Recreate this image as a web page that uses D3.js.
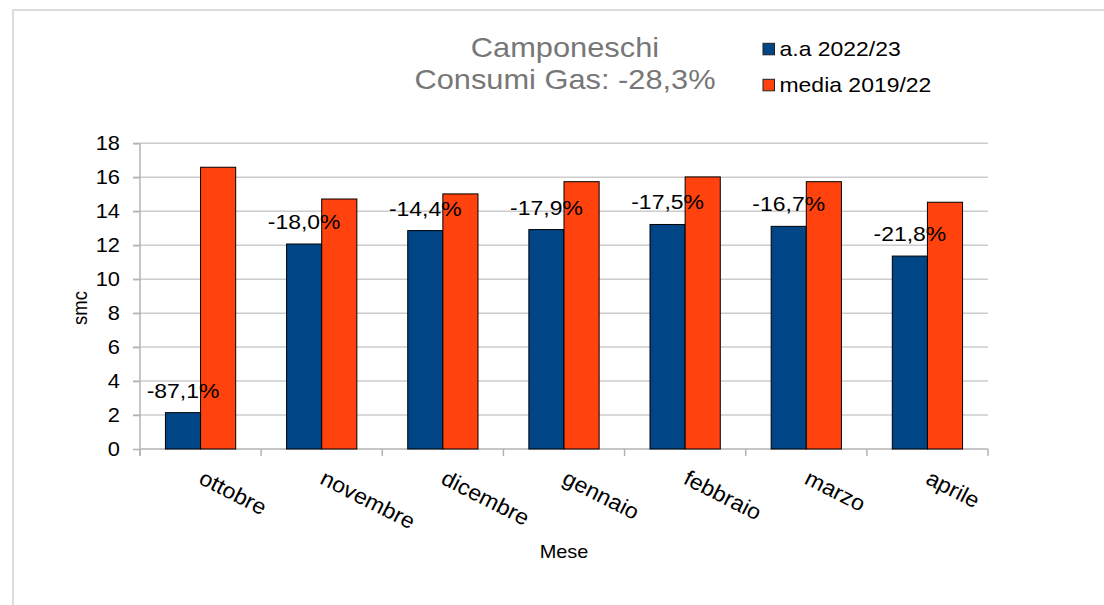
<!DOCTYPE html>
<html>
<head>
<meta charset="utf-8">
<script src="https://cdnjs.cloudflare.com/ajax/libs/d3/7.8.5/d3.min.js"></script>
<style>
  body { margin: 0; background: #fff; }
  svg { display: block; font-family: "Liberation Sans", Arial, sans-serif; }
</style>
</head>
<body>
<div id="chart"></div>
<script>
// data
var categories = ['ottobre', 'novembre', 'dicembre', 'gennaio', 'febbraio', 'marzo', 'aprile'];
var aa2223 = [2.14, 12.07, 12.86, 12.92, 13.22, 13.11, 11.36];
var media1922 = [16.59, 14.72, 15.02, 15.74, 16.02, 15.74, 14.53];
var pctLabels = ['-87,1%', '-18,0%', '-14,4%', '-17,9%', '-17,5%', '-16,7%', '-21,8%'];
var yTicks = [0, 2, 4, 6, 8, 10, 12, 14, 16, 18];
var seriesNames = ['a.a 2022/23', 'media 2019/22'];
var titleLines = ['Camponeschi', 'Consumi Gas: -28,3%'];

var colors = ['#004586', '#ff420e'];
var SX = 1.12; // text in the reference is a bit wide

var W = 1104, H = 605;
var plotL = 140, plotR = 988, plotT = 143.3, plotB = 449;

var svg = d3.select('#chart').append('svg')
  .attr('width', W).attr('height', H);

// frame
svg.append('rect')
  .attr('x', 13).attr('y', 10)
  .attr('width', W + 20).attr('height', H + 20)
  .attr('fill', 'none').attr('stroke', '#dcdcdc').attr('stroke-width', 2);

function place(sel, x, y) {
  return sel.attr('transform', 'translate(' + x + ',' + y + ') scale(' + SX + ',1)');
}

var y = d3.scaleLinear().domain([0, 18]).range([plotB, plotT]);
var x0 = d3.scaleBand().domain(categories).range([plotL, plotR])
  .paddingInner(0.42).paddingOuter(0.21);
var x1 = d3.scaleBand().domain([0, 1]).range([0, x0.bandwidth()]);

// grid
svg.append('g').selectAll('line')
  .data(yTicks.filter(function(d) { return d > 0; }))
  .enter().append('line')
  .attr('x1', plotL - 7).attr('x2', plotR)
  .attr('y1', function(d) { return y(d); })
  .attr('y2', function(d) { return y(d); })
  .attr('stroke', '#cccccc').attr('stroke-width', 1.5);

// y axis
var yAxis = svg.append('g').attr('transform', 'translate(' + plotL + ',0)')
  .call(d3.axisLeft(y).tickValues(yTicks).tickSize(7).tickPadding(0).tickFormat(''));
yAxis.select('.domain').remove();
yAxis.selectAll('line').attr('stroke', '#b3b3b3').attr('stroke-width', 1.5);
svg.append('line')
  .attr('x1', plotL).attr('x2', plotL).attr('y1', plotT).attr('y2', plotB + 7)
  .attr('stroke', '#b3b3b3').attr('stroke-width', 1.5);

svg.append('g').selectAll('text')
  .data(yTicks).enter().append('text')
  .each(function(d) { place(d3.select(this), 120, y(d)); })
  .attr('text-anchor', 'end').attr('dy', '0.36em')
  .attr('font-size', 19.5).attr('fill', '#000')
  .text(function(d) { return d; });

// x axis
svg.append('line')
  .attr('x1', plotL).attr('x2', plotR).attr('y1', plotB).attr('y2', plotB)
  .attr('stroke', '#b3b3b3').attr('stroke-width', 1.5);
var bounds = d3.range(categories.length + 1).map(function(i) { return plotL + i * x0.step(); });
svg.append('g').selectAll('line')
  .data(bounds).enter().append('line')
  .attr('x1', function(d) { return d; }).attr('x2', function(d) { return d; })
  .attr('y1', plotB).attr('y2', plotB + 7)
  .attr('stroke', '#b3b3b3').attr('stroke-width', 1.5);

svg.append('g').selectAll('text')
  .data(categories).enter().append('text')
  .attr('transform', function(d) {
    return 'translate(' + (x0(d) + x0.bandwidth() / 2 - 3) + ',' + (plotB + 34) + ') rotate(27) scale(1.05,1)';
  })
  .attr('font-size', 22).attr('fill', '#000')
  .text(function(d) { return d; });

// bars
var groups = svg.append('g').selectAll('g')
  .data(categories).enter().append('g')
  .attr('transform', function(d) { return 'translate(' + x0(d) + ',0)'; });

groups.selectAll('rect')
  .data(function(d, i) { return [aa2223[i], media1922[i]]; })
  .enter().append('rect')
  .attr('x', function(d, j) { return x1(j); })
  .attr('y', function(d) { return y(d); })
  .attr('width', x1.bandwidth())
  .attr('height', function(d) { return plotB - y(d); })
  .attr('fill', function(d, j) { return colors[j]; })
  .attr('stroke', '#000').attr('stroke-width', 1);

// percent labels above blue bars
groups.append('text')
  .each(function(d, i) {
    place(d3.select(this), x1(0) + x1.bandwidth() / 2, y(aa2223[i]) - 15);
  })
  .attr('text-anchor', 'middle')
  .attr('font-size', 20.5).attr('fill', '#000')
  .text(function(d, i) { return pctLabels[i]; });

// axis titles
place(svg.append('text'), (plotL + plotR) / 2, 557.7)
  .attr('text-anchor', 'middle').attr('font-size', 17.8).attr('fill', '#000')
  .text('Mese');

svg.append('text')
  .attr('transform', 'translate(87,308) rotate(-90) scale(1,' + SX + ')')
  .attr('text-anchor', 'middle').attr('font-size', 18.5).attr('fill', '#000')
  .text('smc');

// title
svg.append('g').selectAll('text')
  .data(titleLines).enter().append('text')
  .each(function(d, i) { place(d3.select(this), 565, 57.3 + i * 32); })
  .attr('text-anchor', 'middle').attr('font-size', 27.5).attr('fill', '#777777')
  .text(function(d) { return d; });

// legend
var leg = svg.append('g').selectAll('g')
  .data(seriesNames).enter().append('g')
  .attr('transform', function(d, i) { return 'translate(763,' + (43.3 + i * 36) + ')'; });
leg.append('rect')
  .attr('width', 11.5).attr('height', 11.5)
  .attr('fill', function(d, i) { return colors[i]; })
  .attr('stroke', '#222').attr('stroke-width', 1);
leg.append('text')
  .each(function() { place(d3.select(this), 16.5, 12.4); })
  .attr('font-size', 20.5).attr('fill', '#000')
  .text(function(d) { return d; });
</script>
</body>
</html>
